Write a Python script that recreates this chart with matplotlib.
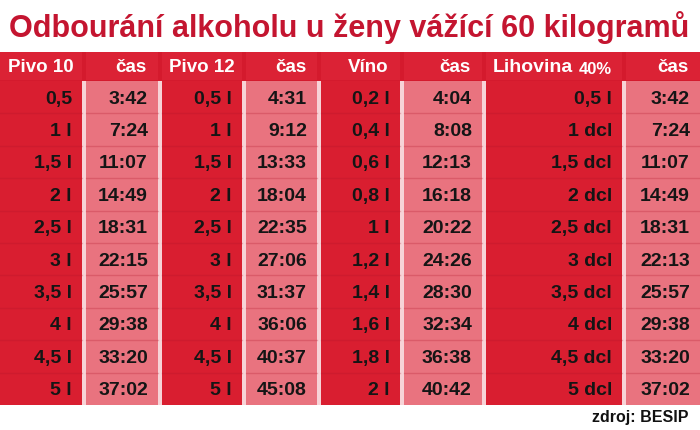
import matplotlib.pyplot as plt
from matplotlib.patches import Rectangle

plt.rcParams['font.family'] = ['Liberation Sans', 'DejaVu Sans']

title = "Odbourání alkoholu u ženy vážící 60 kilogramů"
source = "zdroj: BESIP"

headers = ["Pivo 10", "čas", "Pivo 12", "čas", "Víno", "čas", "Lihovina", "čas"]

pivo10 = ["0,5", "1 l", "1,5 l", "2 l", "2,5 l", "3 l", "3,5 l", "4 l", "4,5 l", "5 l"]
pivo10_cas = ["3:42", "7:24", "11:07", "14:49", "18:31", "22:15", "25:57", "29:38", "33:20", "37:02"]
pivo12 = ["0,5 l", "1 l", "1,5 l", "2 l", "2,5 l", "3 l", "3,5 l", "4 l", "4,5 l", "5 l"]
pivo12_cas = ["4:31", "9:12", "13:33", "18:04", "22:35", "27:06", "31:37", "36:06", "40:37", "45:08"]
vino = ["0,2 l", "0,4 l", "0,6 l", "0,8 l", "1 l", "1,2 l", "1,4 l", "1,6 l", "1,8 l", "2 l"]
vino_cas = ["4:04", "8:08", "12:13", "16:18", "20:22", "24:26", "28:30", "32:34", "36:38", "40:42"]
lihovina = ["0,5 l", "1 dcl", "1,5 dcl", "2 dcl", "2,5 dcl", "3 dcl", "3,5 dcl", "4 dcl", "4,5 dcl", "5 dcl"]
lihovina_cas = ["3:42", "7:24", "11:07", "14:49", "18:31", "22:13", "25:57", "29:38", "33:20", "37:02"]

columns = [pivo10, pivo10_cas, pivo12, pivo12_cas, vino, vino_cas, lihovina, lihovina_cas]

# layout in pixels
col_edges = [(0, 82), (86, 158), (162, 242), (246, 317),
             (321, 400), (404, 482), (486, 622), (626, 700)]
head_top, head_bot = 53, 81
row_top, row_h = 82, 32.4

RED = '#d91e30'
HEAD = '#d41a2d'
PINK = '#e9737f'
GAP = '#f7d3d7'

fig = plt.figure(figsize=(7, 4.31), dpi=100)
ax = fig.add_axes([0, 0, 1, 1])
ax.set_xlim(0, 700)
ax.set_ylim(431, 0)
ax.axis('off')

ax.text(349, 28, title, ha='center', va='center', fontsize=22,
        fontweight='bold', color='#c41530')

# gap background behind table
n = len(pivo10)
ax.add_patch(Rectangle((0, head_top), 700, row_top + n * row_h - head_top,
                       color=GAP, lw=0))

# header band
ax.add_patch(Rectangle((0, head_top), 700, head_bot - head_top + 1, color=HEAD, lw=0))
hy = (head_top + head_bot) / 2 + 1
for j, (x0, x1) in enumerate(col_edges):
    ax.add_patch(Rectangle((x0, head_top), x1 - x0, head_bot - head_top,
                           color='#db2235', lw=0))
    if j == 6:
        ax.text(493, hy, headers[j], ha='left', va='center', fontsize=14,
                fontweight='bold', color='white')
        ax.text(612, hy + 1, "40%", ha='right', va='center', fontsize=12,
                fontweight='bold', color='white')
    elif j in (0, 2):
        ax.text((x0 + x1) / 2, hy, headers[j], ha='center', va='center',
                fontsize=13.5, fontweight='bold', color='white')
    else:
        ax.text(x1 - 11, hy, headers[j], ha='right', va='center',
                fontsize=13.5, fontweight='bold', color='white')

# data cells
for j, (x0, x1) in enumerate(col_edges):
    fc = RED if j % 2 == 0 else PINK
    ax.add_patch(Rectangle((x0, row_top), x1 - x0, n * row_h, color=fc, lw=0))
    for i, val in enumerate(columns[j]):
        y0 = row_top + i * row_h
        if i > 0:
            ax.plot([x0, x1], [y0, y0], color='#b0142a', alpha=0.25, lw=1)
        ax.text(x1 - 10, y0 + row_h / 2 + 1, val, ha='right', va='center',
                fontsize=14, fontweight='bold', color='#151515')

ax.text(688, 418, source, ha='right', va='center', fontsize=11.5,
        fontweight='bold', color='#111111')

fig.savefig('out.png', dpi=100)
